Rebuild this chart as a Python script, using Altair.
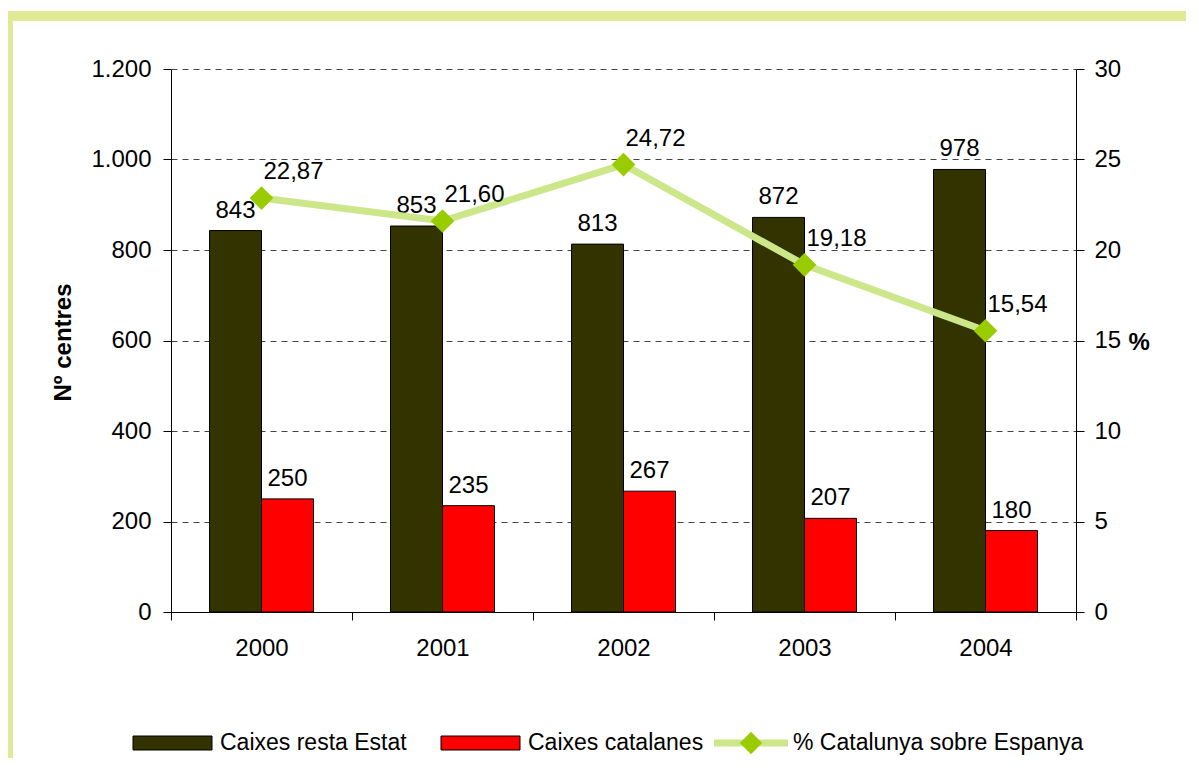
import altair as alt
import pandas as pd

years = ["2000", "2001", "2002", "2003", "2004"]
resta_estat = [843, 853, 813, 872, 978]
catalanes = [250, 235, 267, 207, 180]
pct_catalunya = [22.87, 21.60, 24.72, 19.18, 15.54]
series_names = ["Caixes resta Estat", "Caixes catalanes", "% Catalunya sobre Espanya"]
left_ticks = [0, 200, 400, 600, 800, 1000, 1200]
right_ticks = [0, 5, 10, 15, 20, 25, 30]

bar_colors = ["#333300", "#FF0000"]
LINE_COLOR = "#CCE68A"
POINT_COLOR = "#99CC00"
FRAME_COLOR = "#E0EA96"
FONT = "Liberation Sans"
FS = 24
LFS = 23
W, H = 905, 543

bars_df = pd.DataFrame({
    "year": years * 2,
    "series": [series_names[0]] * len(years) + [series_names[1]] * len(years),
    "value": resta_estat + catalanes,
})
line_df = pd.DataFrame({"year": years, "pct": pct_catalunya})

x_scale = alt.Scale(paddingInner=0, paddingOuter=0)
x_enc = alt.X(
    "year:N",
    sort=years,
    scale=x_scale,
    axis=alt.Axis(
        title=None, tickBand="extent", labelAngle=0, labelPadding=16,
        tickSize=8, labelFontSize=FS, labelFont=FONT, labelColor="black",
        domainColor="black", tickColor="black",
    ),
)
x_plain = alt.X("year:N", sort=years)
xoff = alt.XOffset("series:N", sort=series_names[:2],
                   scale=alt.Scale(paddingInner=0, paddingOuter=0.74))
color = alt.Color("series:N", scale=alt.Scale(domain=series_names[:2], range=bar_colors),
                  legend=None)

y_left = alt.Y(
    "value:Q",
    scale=alt.Scale(domain=[0, 1200], nice=False),
    axis=alt.Axis(
        values=left_ticks, labelExpr="replace(format(datum.value, ','), ',', '.')",
        title="Nº centres", titleAngle=-90, titleFontWeight="bold", titleFont=FONT,
        titleFontSize=FS, titleX=-108, titleY=273, titleAlign="center",
        titleBaseline="middle", titleColor="black",
        grid=True, gridDash=[6, 5], gridColor="#444444", gridWidth=1,
        tickSize=8, labelPadding=12, labelFontSize=FS, labelFont=FONT,
        labelColor="black", domainColor="black", tickColor="black",
    ),
)

bars = alt.Chart(bars_df).mark_bar(stroke="black", strokeWidth=1).encode(
    x=x_enc, xOffset=xoff, y=y_left, color=color
)
bar_text = alt.Chart(bars_df).mark_text(
    dy=-20, baseline="middle", font=FONT, fontSize=FS, color="black"
).encode(
    x=x_plain, xOffset=xoff,
    y=alt.Y("value:Q"), text=alt.Text("value:Q")
)
left = alt.layer(bars, bar_text)

y_right = alt.Y(
    "pct:Q",
    scale=alt.Scale(domain=[0, 30], nice=False),
    axis=alt.Axis(
        orient="right", values=right_ticks, grid=False,
        title="%", titleAngle=0, titleFontWeight="bold", titleFont=FONT,
        titleFontSize=FS, titleX=52, titleY=273, titleAlign="left",
        titleBaseline="middle", titleColor="black",
        tickSize=8, labelPadding=10, labelFontSize=FS, labelFont=FONT,
        labelColor="black", domainColor="black", tickColor="black",
    ),
)
line = alt.Chart(line_df).mark_line(color=LINE_COLOR, strokeWidth=7).encode(
    x=x_plain, y=y_right
)
points = alt.Chart(line_df).mark_point(
    shape="diamond", filled=True, color=POINT_COLOR, size=560, opacity=1
).encode(x=x_plain, y=alt.Y("pct:Q"))
line_text = alt.Chart(line_df).mark_text(
    dx=32, dy=-26, baseline="middle", font=FONT, fontSize=FS, color="black"
).encode(
    x=x_plain, y=alt.Y("pct:Q"), text="lbl:N"
).transform_calculate(lbl="replace(format(datum.pct, '.2f'), '.', ',')")
right = alt.layer(line, points, line_text)

one = alt.Data(values=[{}])
# frame
frame_top = alt.Chart(one).mark_rect(color=FRAME_COLOR).encode(
    x=alt.value(-171), x2=alt.value(1040), y=alt.value(-58), y2=alt.value(-48))
frame_left = alt.Chart(one).mark_rect(color=FRAME_COLOR).encode(
    x=alt.value(-171), x2=alt.value(-158), y=alt.value(-58), y2=alt.value(720))

# legend
LY = 674
leg1 = alt.Chart(one).mark_rect(color=bar_colors[0], stroke="black", strokeWidth=1).encode(
    x=alt.value(-38), x2=alt.value(41), y=alt.value(LY - 7), y2=alt.value(LY + 7))
leg1t = alt.Chart(one).mark_text(align="left", baseline="middle", font=FONT, fontSize=LFS,
                                 color="black").encode(
    x=alt.value(49), y=alt.value(LY), text=alt.value(series_names[0]))
leg2 = alt.Chart(one).mark_rect(color=bar_colors[1], stroke="black", strokeWidth=1).encode(
    x=alt.value(270), x2=alt.value(349), y=alt.value(LY - 7), y2=alt.value(LY + 7))
leg2t = alt.Chart(one).mark_text(align="left", baseline="middle", font=FONT, fontSize=LFS,
                                 color="black").encode(
    x=alt.value(357), y=alt.value(LY), text=alt.value(series_names[1]))
leg3 = alt.Chart(one).mark_rule(color=LINE_COLOR, strokeWidth=7).encode(
    x=alt.value(543), x2=alt.value(617), y=alt.value(LY))
leg3p = alt.Chart(one).mark_point(shape="diamond", filled=True, color=POINT_COLOR,
                                  size=500, opacity=1).encode(
    x=alt.value(580), y=alt.value(LY))
leg3t = alt.Chart(one).mark_text(align="left", baseline="middle", font=FONT, fontSize=LFS,
                                 color="black").encode(
    x=alt.value(622), y=alt.value(LY), text=alt.value(series_names[2]))

chart = alt.layer(
    left, right, frame_top, frame_left,
    leg1, leg1t, leg2, leg2t, leg3, leg3p, leg3t
).resolve_scale(y="independent").properties(
    width=W, height=H,
    autosize=alt.AutoSizeParams(type="none"),
    padding={"left": 163, "top": 61, "right": 110, "bottom": 146},
    background="white",
).configure_view(stroke=None)

chart.save("out.html", embed_options={"renderer": "svg", "actions": False})
